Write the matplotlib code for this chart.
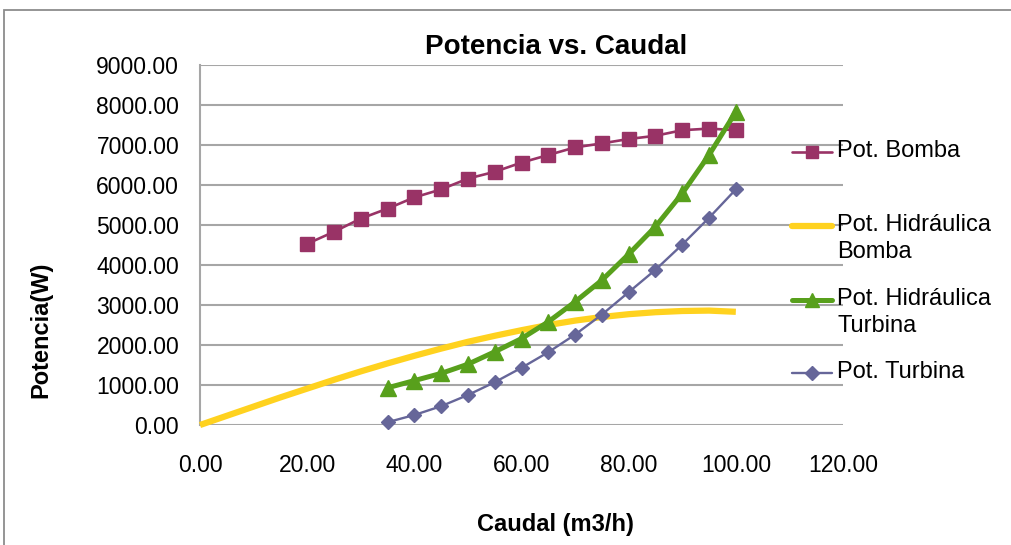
import matplotlib
matplotlib.use("Agg")
import matplotlib.pyplot as plt
from matplotlib.lines import Line2D
from matplotlib.patches import Rectangle
from matplotlib.ticker import FormatStrFormatter

plt.rcParams['font.family'] = ['Liberation Sans', 'DejaVu Sans']

# ---- data ----
caudal_bomba = [20, 25, 30, 35, 40, 45, 50, 55, 60, 65, 70, 75, 80, 85, 90, 95, 100]
pot_bomba = [4530, 4830, 5160, 5410, 5690, 5890, 6160, 6330, 6560, 6750, 6940, 7040,
             7150, 7230, 7370, 7410, 7370]

caudal_hid_bomba = [0, 5, 10, 15, 20, 25, 30, 35, 40, 45, 50, 55, 60, 65, 70, 75, 80,
                    85, 90, 95, 100]
pot_hid_bomba = [0, 230, 460, 690, 910, 1130, 1340, 1540, 1730, 1910, 2080, 2230, 2370,
                 2500, 2610, 2700, 2770, 2820, 2850, 2860, 2830]

caudal_turbina = [35, 40, 45, 50, 55, 60, 65, 70, 75, 80, 85, 90, 95, 100]
pot_hid_turbina = [930, 1110, 1290, 1520, 1830, 2160, 2580, 3080, 3620, 4270, 4960,
                   5790, 6750, 7830]
pot_turbina = [70, 250, 470, 750, 1070, 1430, 1820, 2260, 2760, 3320, 3880, 4510,
               5180, 5890]

x_ticks = [0, 20, 40, 60, 80, 100, 120]
y_ticks = [0, 1000, 2000, 3000, 4000, 5000, 6000, 7000, 8000, 9000]

labels = ["Pot. Bomba", "Pot. Hidráulica\nBomba", "Pot. Hidráulica\nTurbina", "Pot. Turbina"]
colors = ["#993366", "#FFD21F", "#58A01C", "#666699"]

W, H = 1011, 545
fig = plt.figure(figsize=(W / 100, H / 100), dpi=100)

def fx(px):
    return px / W

def fy(py):
    return 1 - py / H

# chart border
fig.patches.append(Rectangle((fx(4), fy(560)), fx(1020), fy(10) - fy(560),
                             transform=fig.transFigure, fill=False,
                             edgecolor="#8C8C8C", linewidth=1.3))

ax = fig.add_axes([fx(200), fy(425), fx(843) - fx(200), fy(65) - fy(425)])

styles = [
    dict(color=colors[0], lw=1.9, marker="s", ms=9.5, mec=colors[0], mfc=colors[0]),
    dict(color=colors[1], lw=4.5, marker=None),
    dict(color=colors[2], lw=3.6, marker="^", ms=11, mec=colors[2], mfc=colors[2]),
    dict(color=colors[3], lw=1.7, marker="D", ms=7.5, mec=colors[3], mfc=colors[3]),
]
series = [(caudal_bomba, pot_bomba), (caudal_hid_bomba, pot_hid_bomba),
          (caudal_turbina, pot_hid_turbina), (caudal_turbina, pot_turbina)]

order = [1, 3, 2, 0]
for i in order:
    xs, ys = series[i]
    st = styles[i]
    ax.plot(xs, ys, color=st["color"], lw=st["lw"], marker=st.get("marker"),
            ms=st.get("ms", 0), mec=st.get("mec"), mfc=st.get("mfc"),
            clip_on=False, zorder=3 + i, solid_capstyle="butt")

ax.set_xlim(0, 120)
ax.set_ylim(0, 9000)
ax.set_xticks(x_ticks)
ax.set_yticks(y_ticks)
ax.xaxis.set_major_formatter(FormatStrFormatter("%.2f"))
ax.yaxis.set_major_formatter(FormatStrFormatter("%.2f"))
ax.tick_params(axis="both", length=0, labelsize=16.5, colors="black")
ax.tick_params(axis="x", pad=21)
ax.tick_params(axis="y", pad=15)
ax.grid(axis="y", color="#A6A6A6", linewidth=1.5)
ax.set_axisbelow(True)
for s in ["top", "right", "bottom"]:
    ax.spines[s].set_visible(False)
ax.spines["left"].set_color("#A6A6A6")
ax.spines["left"].set_linewidth(1.5)

# titles
fig.text(fx(556), fy(47), "Potencia vs. Caudal", fontsize=20, fontweight="bold",
         ha="center", va="center")
fig.text(fx(555), fy(525), "Caudal (m3/h)", fontsize=17, fontweight="bold",
         ha="center", va="center")
fig.text(fx(41), fy(330), "Potencia(W)", fontsize=17, fontweight="bold",
         ha="center", va="center", rotation=90)

# legend (manual, handle aligned to first text line)
leg_y = [152, 226, 300, 373]
for i, (lab, yy) in enumerate(zip(labels, leg_y)):
    st = styles[i]
    lw = min(st["lw"], 4.5)
    fig.lines.append(Line2D([fx(792), fx(832)], [fy(yy), fy(yy)],
                            transform=fig.transFigure, color=st["color"],
                            lw=lw, solid_capstyle="round"))
    if st.get("marker"):
        fig.lines.append(Line2D([fx(812)], [fy(yy)], transform=fig.transFigure,
                                marker=st["marker"], ms=st["ms"] * 0.9,
                                color=st["color"], mec=st["mec"], mfc=st["mfc"],
                                linestyle="none"))
    fig.text(fx(837), fy(yy - 12), lab, fontsize=17, ha="left", va="top",
             linespacing=1.3, transform=fig.transFigure)

fig.savefig("out.png", dpi=100)
